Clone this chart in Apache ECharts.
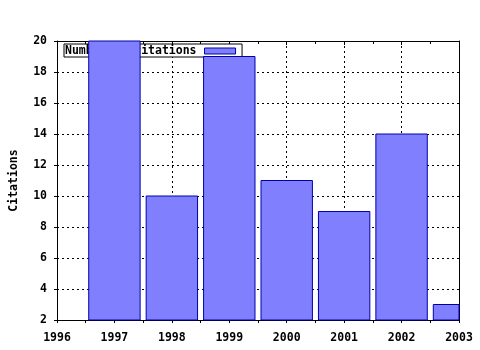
<!DOCTYPE html>
<html><head><meta charset="utf-8">
<script src="https://cdn.jsdelivr.net/npm/echarts@6/dist/echarts.min.js"></script>
<style>html,body{margin:0;padding:0;background:#fff}#c{width:480px;height:350px}</style>
</head><body><div id="c"></div>
<script>
var years = [1997, 1998, 1999, 2000, 2001, 2002, 2003];
var citations = [20, 10, 19, 11, 9, 14, 3];
var seriesName = 'Number of citations';
var yAxisName = 'Citations';

var FONT = 'DejaVu Sans Mono';
var lbl = {color: '#000', fontFamily: FONT, fontWeight: 'bold', fontSize: 11.5};
var BAR_FRACTION = 0.895;
var chart = echarts.init(document.getElementById('c'), null, {renderer: 'canvas'});

function renderBar(params, api) {
  var x = api.value(0), v = api.value(1);
  var half = api.size([1, 0])[0] * BAR_FRACTION / 2;
  var top = api.coord([x, v]);
  var base = api.coord([x, 2]);
  var rect = echarts.graphic.clipRectByRect(
    {x: top[0] - half, y: top[1], width: half * 2, height: base[1] - top[1]},
    {x: params.coordSys.x, y: params.coordSys.y - 1, width: params.coordSys.width, height: params.coordSys.height + 2}
  );
  if (!rect) return null;
  return {type: 'rect', shape: rect, style: {fill: '#8080ff', stroke: '#0000aa', lineWidth: 1}};
}

chart.setOption({
  animation: false,
  backgroundColor: '#fff',
  grid: {left: 57, right: 21, top: 41, bottom: 30, containLabel: false, outerBoundsMode: 'none'},
  legend: {
    data: [{name: seriesName, icon: 'rect'}], left: 64, top: 44, z: 1, align: 'right',
    backgroundColor: '#fff', borderColor: '#000', borderWidth: 1,
    padding: [1, 6, 0, 1], itemWidth: 31, itemHeight: 6,
    itemStyle: {color: '#8080ff', borderColor: '#0000aa', borderWidth: 1},
    textStyle: Object.assign({padding: [0, 3, 0, 0]}, lbl), selectedMode: false
  },
  xAxis: [{
    type: 'value', min: 1996, max: 2003, interval: 1, position: 'bottom',
    axisLine: {lineStyle: {color: '#000', width: 1}},
    axisTick: {show: true, length: 3, lineStyle: {color: '#000'}},
    minorTick: {show: true, splitNumber: 2, length: 3, lineStyle: {color: '#000'}},
    axisLabel: Object.assign({margin: 12, formatter: function (v) { return String(v); }}, lbl),
    splitLine: {show: true, lineStyle: {color: '#000', type: [2, 3], width: 1}}
  }, {
    type: 'value', min: 1996, max: 2003, interval: 1, position: 'top',
    axisLine: {lineStyle: {color: '#000', width: 1}},
    axisTick: {show: true, inside: true, length: 4, lineStyle: {color: '#000'}},
    minorTick: {show: true, splitNumber: 2, length: 3, lineStyle: {color: '#000'}},
    axisLabel: {show: false}, splitLine: {show: false}
  }],
  yAxis: [{
    type: 'value', min: 2, max: 20, interval: 2, position: 'left',
    name: yAxisName, nameLocation: 'middle', nameGap: 37, nameRotate: 90,
    nameTextStyle: Object.assign({}, lbl),
    axisLine: {lineStyle: {color: '#000', width: 1}},
    axisTick: {show: true, length: 3, lineStyle: {color: '#000'}},
    axisLabel: Object.assign({margin: 10}, lbl),
    splitLine: {show: true, lineStyle: {color: '#000', type: [2, 3], width: 1}}
  }, {
    type: 'value', min: 2, max: 20, interval: 2, position: 'right',
    axisLine: {show: true, lineStyle: {color: '#000', width: 1}},
    axisTick: {show: false}, axisLabel: {show: false}, splitLine: {show: false}
  }],
  series: [{
    type: 'custom', name: seriesName, z: 5,
    xAxisIndex: 0, yAxisIndex: 0,
    itemStyle: {color: '#8080ff', borderColor: '#0000aa', borderWidth: 1},
    renderItem: renderBar,
    encode: {x: 0, y: 1},
    data: years.map(function (y, i) { return [y, citations[i]]; })
  }]
});
</script></body></html>
